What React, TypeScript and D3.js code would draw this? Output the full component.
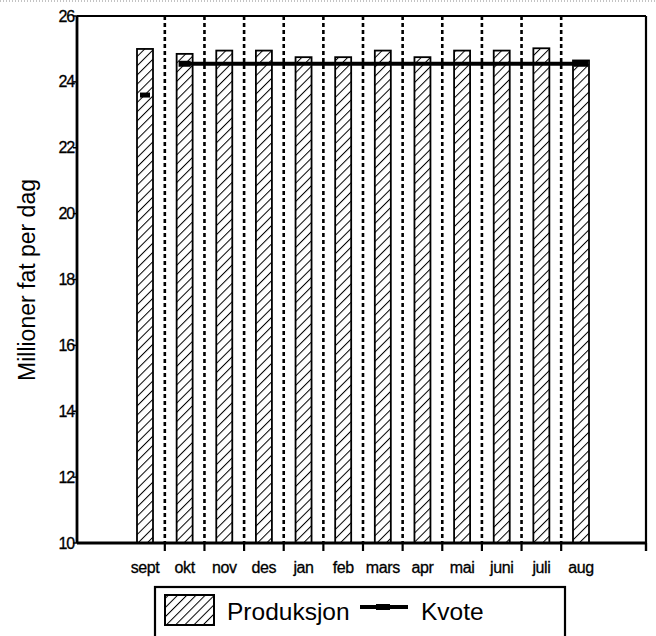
import React from 'react';
import * as d3 from 'd3';

const months = ["sept", "okt", "nov", "des", "jan", "feb", "mars", "apr", "mai", "juni", "juli", "aug"];
const produksjon = [25.0, 24.85, 24.95, 24.95, 24.75, 24.75, 24.95, 24.75, 24.95, 24.95, 25.02, 24.65];
const kvote = [23.6, 24.55, 24.55, 24.55, 24.55, 24.55, 24.55, 24.55, 24.55, 24.55, 24.55, 24.55];
const yTicks = [10, 12, 14, 16, 18, 20, 22, 24, 26];

const W = 656;
const H = 636;
const left = 77, right = 646, top = 16, bottom = 543;
const font = "'Liberation Sans', Arial, Helvetica, sans-serif";

export default function App() {
    // month index -> pixel; the axis runs a bit past the first and last month
    const x = d3.scaleLinear().domain([0, 11]).range([145, 581]);
    const y = d3.scaleLinear().domain([10, 26]).range([bottom, top]);
    const barW = 16;
    const dividers = d3.range(0.5, 11, 1);

    const line = d3.line<number>()
        .x((_, i) => x(i + 1))
        .y(d => y(d));
    const kvoteRest = kvote.slice(1);
    const last = kvote.length - 1;

    return (
        <svg width={W} height={H} style={{ position: 'absolute', left: 0, top: 0, background: '#fff' }}>
            <defs>
                <pattern id="hatch" patternUnits="userSpaceOnUse" width="6.5" height="6.5" patternTransform="rotate(45)">
                    <rect width="6.5" height="6.5" fill="#fff" />
                    <line x1="0" y1="0" x2="0" y2="6.5" stroke="#000" strokeWidth="2" />
                </pattern>
            </defs>

            <line x1={0} x2={W} y1={1} y2={1} stroke="#888" strokeWidth={1} strokeDasharray="1,2" />

            {/* frame */}
            <line x1={left} x2={right} y1={top} y2={top} stroke="#000" strokeWidth={1.8} />
            <line x1={right} x2={right} y1={top} y2={bottom + 8} stroke="#000" strokeWidth={2.2} />

            {/* dashed dividers between months */}
            {dividers.map(d => (
                <line key={d} x1={x(d)} x2={x(d)} y1={top} y2={bottom}
                    stroke="#000" strokeWidth={2.6} strokeDasharray="4,3" />
            ))}

            {/* bars */}
            {produksjon.map((v, i) => (
                <rect key={months[i]} x={x(i) - barW / 2} y={y(v)} width={barW} height={y(10) - y(v)}
                    fill="url(#hatch)" stroke="#000" strokeWidth={1.8} />
            ))}

            {/* kvote */}
            <rect x={x(0) - 5} y={y(kvote[0]) - 2.5} width={10} height={5} fill="#000" />
            <path d={line(kvoteRest) || ''} fill="none" stroke="#000" strokeWidth={4} />
            <rect x={x(1) - 6} y={y(kvote[1]) - 3} width={12} height={6} fill="#000" />
            <rect x={x(last) - 7} y={y(kvote[last]) - 3} width={14} height={6} fill="#000" />

            {/* axes */}
            <line x1={left} x2={left} y1={top} y2={bottom} stroke="#000" strokeWidth={2.8} />
            <line x1={left} x2={right} y1={bottom} y2={bottom} stroke="#000" strokeWidth={2.8} />
            {yTicks.map(t => (
                <g key={t}>
                    <line x1={left - 4} x2={left} y1={y(t)} y2={y(t)} stroke="#000" strokeWidth={1.5} />
                    <text x={left - 3} y={y(t)} dy="0.35em" textAnchor="end" fontFamily={font}
                        fontSize={16} letterSpacing={-1.2} stroke="#000" strokeWidth={0.3}>{t}</text>
                </g>
            ))}
            {[...dividers, 12.64].map(d => (
                <line key={d} x1={x(d)} x2={x(d)} y1={bottom} y2={bottom + 8} stroke="#000" strokeWidth={2.2} />
            ))}
            {months.map((m, i) => (
                <text key={m} x={x(i)} y={567} dy="0.35em" textAnchor="middle" fontFamily={font}
                    fontSize={16} letterSpacing={-0.4} stroke="#000" strokeWidth={0.3}>{m}</text>
            ))}

            <text transform={`translate(27, 280) rotate(-90)`} textAnchor="middle"
                dy="0.35em" fontFamily={font} fontSize={23}>Millioner fat per dag</text>

            {/* legend */}
            <rect x={155} y={587} width={410} height={70} fill="#fff" stroke="#000" strokeWidth={2.2} />
            <rect x={165} y={595} width={49} height={30} fill="url(#hatch)" stroke="#000" strokeWidth={2} />
            <text x={227} y={611} dy="0.35em" fontFamily={font} fontSize={24.5}>Produksjon</text>
            <line x1={360} x2={408} y1={607} y2={607} stroke="#000" strokeWidth={4} />
            <rect x={376} y={604} width={14} height={6} fill="#000" />
            <text x={421} y={611} dy="0.35em" fontFamily={font} fontSize={24.5}>Kvote</text>
        </svg>
    );
}
